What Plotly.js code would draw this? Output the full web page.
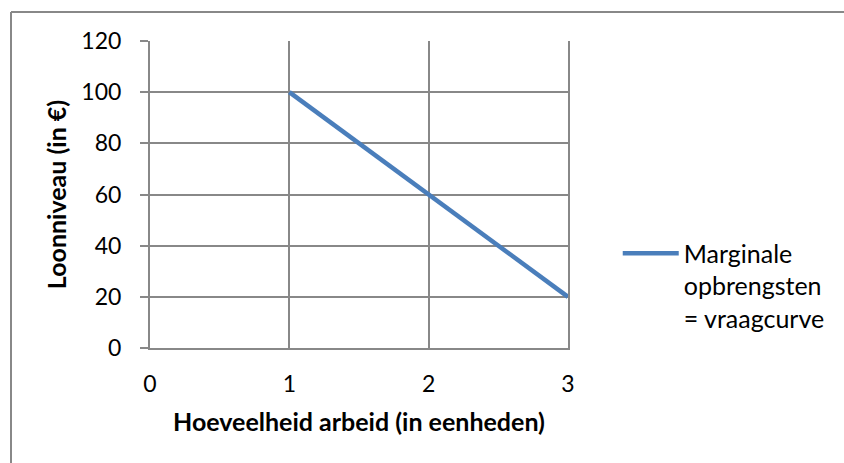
<!DOCTYPE html>
<html>
<head>
<meta charset="utf-8">
<script src="https://cdn.plot.ly/plotly-3.0.1.min.js"></script>
<style>
  html, body { margin: 0; padding: 0; background: #ffffff; }
  #chart { width: 844px; height: 463px; }
</style>
</head>
<body>
<div id="chart"></div>
<script>
// Arbeid (eenheden) en loonniveau in euro
const hoeveelheid = [1, 2, 3];
const loonniveau = [100, 60, 20];
const serieNaam = 'Marginale<br>opbrengsten<br>= vraagcurve';
const xTicks = [0, 1, 2, 3];
const yTicks = [0, 20, 40, 60, 80, 100, 120];

const grijs = '#888888';
const lettertype = 'Lato, "Open Sans", sans-serif';

const trace = {
  x: hoeveelheid,
  y: loonniveau,
  type: 'scatter',
  mode: 'lines',
  name: serieNaam,
  line: { color: '#4a7ebb', width: 4.5 },
  hoverinfo: 'x+y'
};

// Kader rond de grafiek (boven- en linkerrand)
const L = 150, R = 568, T = 41, B = 348;
const px = v => (v - L) / (R - L);
const py = v => (B - v) / (B - T);

const layout = {
  width: 844,
  height: 463,
  margin: { l: 150, r: 276, t: 41, b: 115 },
  paper_bgcolor: '#ffffff',
  plot_bgcolor: '#ffffff',
  font: { family: lettertype, size: 22, color: '#000000' },
  showlegend: true,
  legend: {
    x: 1.119,
    xanchor: 'left',
    y: 0.383,
    yanchor: 'top',
    valign: 'top',
    font: { family: lettertype, size: 25, color: '#000000' },
    bgcolor: 'rgba(0,0,0,0)',
    borderwidth: 0,
    itemwidth: 56,
    tracegroupgap: 0
  },
  xaxis: {
    range: [0, 3],
    tickvals: xTicks,
    ticktext: xTicks.map(String),
    tickfont: { family: lettertype, size: 23 },
    showgrid: true,
    gridcolor: grijs,
    gridwidth: 2,
    showline: true,
    linecolor: grijs,
    linewidth: 2,
    zeroline: false,
    ticks: '',
    ticklabelstandoff: 14,
    title: {
      text: '<b>Hoeveelheid arbeid (in eenheden)</b>',
      font: { family: lettertype, size: 25 },
      standoff: 18
    },
    fixedrange: true
  },
  yaxis: {
    range: [0, 120],
    tickvals: yTicks,
    ticktext: yTicks.map(String),
    tickfont: { family: lettertype, size: 23 },
    showgrid: true,
    gridcolor: grijs,
    gridwidth: 2,
    showline: true,
    linecolor: grijs,
    linewidth: 2,
    mirror: true,
    zeroline: false,
    ticks: 'outside',
    ticklen: 8,
    tickwidth: 2,
    tickcolor: grijs,
    ticklabelstandoff: 14,
    title: {
      text: '<b>Loonniveau (in €)</b>',
      font: { family: lettertype, size: 25 },
      standoff: 8
    },
    fixedrange: true
  },
  shapes: [
    { type: 'line', xref: 'paper', yref: 'paper',
      x0: px(11), x1: px(850), y0: py(12), y1: py(12),
      line: { color: grijs, width: 2 } },
    { type: 'line', xref: 'paper', yref: 'paper',
      x0: px(11), x1: px(11), y0: py(12), y1: py(470),
      line: { color: grijs, width: 2 } }
  ]
};

Plotly.newPlot('chart', [trace], layout, { displayModeBar: false, staticPlot: true });
</script>
</body>
</html>
